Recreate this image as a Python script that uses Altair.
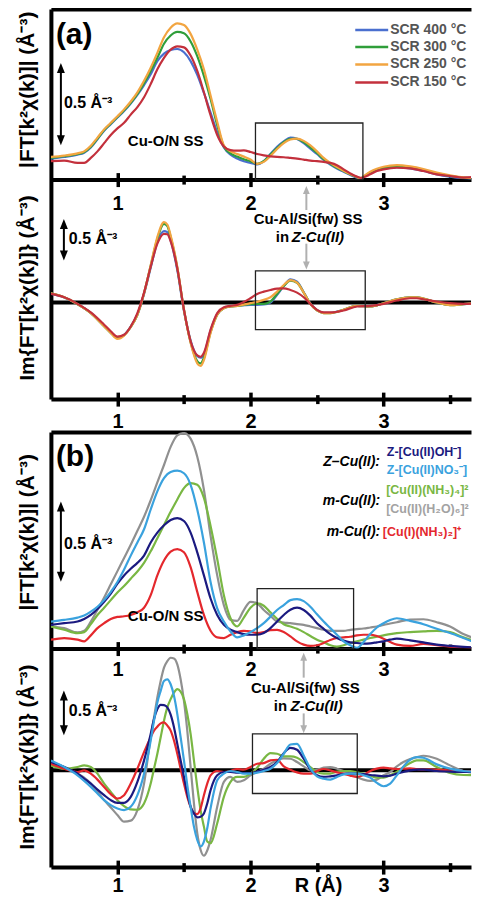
import altair as alt
import pandas as pd

FONT = "Liberation Sans"
X_DOMAIN = [0.5, 3.6575]
PANEL_W = 421

# ---------------- (a) top : |FT| ----------------
r_a_mag = [0.5, 0.6, 0.7, 0.75, 0.8, 0.85, 0.9, 0.95,
           1.0, 1.05, 1.1, 1.15, 1.2, 1.25, 1.3, 1.35, 1.4, 1.45,
           1.5, 1.55, 1.6, 1.65, 1.7, 1.75, 1.8, 1.85, 1.9, 1.95,
           2.0, 2.05, 2.1, 2.15, 2.2, 2.25, 2.3, 2.35, 2.4, 2.45,
           2.5, 2.55, 2.6, 2.65, 2.7, 2.75, 2.8,
           2.83, 2.85, 2.9, 2.95, 3.0, 3.1, 3.2, 3.3, 3.4, 3.5, 3.6, 3.74]
mag_a_400 = [0.128, 0.138, 0.152, 0.164, 0.196, 0.246, 0.298, 0.338,
             0.378, 0.418, 0.464, 0.516, 0.576, 0.642, 0.722, 0.768, 0.79, 0.796,
             0.776, 0.722, 0.638, 0.528, 0.408, 0.288, 0.196, 0.152, 0.128, 0.112,
             0.102, 0.092, 0.112, 0.156, 0.2, 0.232, 0.256, 0.248, 0.222, 0.188,
             0.156, 0.12, 0.092, 0.068, 0.048, 0.028, 0.012,
             0.006, 0.016, 0.04, 0.056, 0.066, 0.076, 0.068, 0.052, 0.032, 0.018, 0.008, 0.0]
mag_a_300 = [0.132, 0.142, 0.156, 0.168, 0.2, 0.25, 0.302, 0.342,
             0.382, 0.422, 0.468, 0.522, 0.588, 0.662, 0.742, 0.828, 0.878, 0.9,
             0.892, 0.842, 0.752, 0.632, 0.492, 0.332, 0.202, 0.16, 0.14, 0.124,
             0.112, 0.096, 0.112, 0.152, 0.192, 0.228, 0.248, 0.248, 0.228, 0.196,
             0.162, 0.124, 0.096, 0.072, 0.052, 0.032, 0.014,
             0.006, 0.018, 0.044, 0.06, 0.072, 0.082, 0.074, 0.058, 0.038, 0.022, 0.012, 0.004]
mag_a_250 = [0.138, 0.146, 0.16, 0.172, 0.206, 0.256, 0.306, 0.346,
             0.386, 0.428, 0.476, 0.532, 0.602, 0.682, 0.772, 0.868, 0.926, 0.952,
             0.942, 0.888, 0.792, 0.672, 0.512, 0.352, 0.208, 0.172, 0.156, 0.14,
             0.122, 0.096, 0.108, 0.144, 0.186, 0.222, 0.244, 0.25, 0.236, 0.208,
             0.172, 0.132, 0.102, 0.076, 0.054, 0.034, 0.016,
             0.008, 0.02, 0.048, 0.066, 0.078, 0.088, 0.08, 0.064, 0.042, 0.026, 0.014, 0.006]
mag_a_150 = [0.112, 0.116, 0.102, 0.102, 0.132, 0.172, 0.222, 0.272,
             0.312, 0.346, 0.396, 0.442, 0.502, 0.582, 0.672, 0.742, 0.792, 0.812,
             0.806, 0.756, 0.662, 0.532, 0.392, 0.272, 0.202, 0.18, 0.176, 0.178,
             0.168, 0.156, 0.148, 0.142, 0.138, 0.136, 0.132, 0.128, 0.122, 0.116,
             0.112, 0.108, 0.102, 0.088, 0.062, 0.038, 0.018,
             0.01, 0.014, 0.032, 0.052, 0.062, 0.072, 0.068, 0.052, 0.032, 0.022, 0.012, 0.02]

# ---------------- (a) bottom : Im ----------------
r_a_im = [0.5, 0.6, 0.7, 0.8, 0.9, 0.95,
          1.0, 1.05, 1.1, 1.15, 1.2, 1.25, 1.3, 1.35,
          1.375, 1.4, 1.45, 1.5, 1.55, 1.6, 1.625, 1.65, 1.7,
          1.75, 1.8, 1.85, 1.9,
          2.0, 2.05, 2.1, 2.15, 2.2, 2.25, 2.3, 2.35, 2.4, 2.45, 2.5, 2.55, 2.6,
          2.7, 2.8, 2.9, 3.0, 3.1, 3.2, 3.25, 3.3, 3.4, 3.5, 3.6, 3.74]
im_a_400 = [0.108, 0.062, -0.02, -0.126, -0.284, -0.364,
            -0.424, -0.39, -0.29, -0.145, 0.105, 0.42, 0.732, 0.864,
            0.852, 0.752, 0.392, -0.1, -0.46, -0.648, -0.668, -0.628, -0.34,
            -0.14, -0.066, -0.048, -0.04,
            -0.028, -0.028, -0.024, 0.0, 0.092, 0.2, 0.28, 0.252, 0.125, -0.012, -0.092, -0.124, -0.124,
            -0.088, -0.04, -0.046, -0.008, 0.038, 0.062, 0.062, 0.046, 0.0, -0.03, -0.02, 0.0]
im_a_300 = [0.112, 0.064, -0.02, -0.128, -0.288, -0.368,
            -0.432, -0.396, -0.296, -0.148, 0.112, 0.445, 0.772, 0.952,
            0.924, 0.792, 0.42, -0.088, -0.48, -0.708, -0.736, -0.668, -0.36,
            -0.148, -0.068, -0.048, -0.04,
            -0.02, -0.016, -0.016, 0.012, 0.104, 0.2, 0.264, 0.24, 0.12, -0.016, -0.096, -0.128, -0.128,
            -0.088, -0.04, -0.048, -0.008, 0.04, 0.064, 0.064, 0.048, 0.0, -0.032, -0.02, 0.0]
im_a_250 = [0.112, 0.064, -0.02, -0.128, -0.288, -0.368,
            -0.44, -0.40, -0.296, -0.148, 0.112, 0.452, 0.792, 0.972,
            0.944, 0.812, 0.432, -0.088, -0.488, -0.736, -0.768, -0.696, -0.368,
            -0.148, -0.068, -0.048, -0.04,
            -0.008, 0.008, 0.032, 0.064, 0.132, 0.212, 0.272, 0.24, 0.12, -0.016, -0.096, -0.128, -0.128,
            -0.088, -0.04, -0.048, -0.008, 0.04, 0.064, 0.064, 0.048, 0.0, -0.032, -0.02, 0.0]
im_a_150 = [0.104, 0.064, -0.016, -0.12, -0.268, -0.348,
            -0.412, -0.39, -0.29, -0.128, 0.12, 0.432, 0.712, 0.832,
            0.826, 0.74, 0.412, -0.088, -0.468, -0.64, -0.656, -0.608, -0.328,
            -0.128, -0.056, -0.04, -0.028,
            0.052, 0.104, 0.132, 0.152, 0.168, 0.172, 0.152, 0.12, 0.064, -0.016, -0.088, -0.12, -0.12,
            -0.096, -0.048, -0.04, -0.016, 0.024, 0.052, 0.052, 0.04, 0.012, -0.008, -0.016, -0.008]

# ---------------- (b) top : |FT| ----------------
r_b_mag = [0.5, 0.6, 0.7, 0.75, 0.8, 0.85, 0.9, 0.95,
           1.0, 1.05, 1.1, 1.15, 1.2, 1.25, 1.3, 1.35, 1.4, 1.45,
           1.5, 1.55, 1.6, 1.65, 1.7, 1.75, 1.8, 1.85, 1.9, 1.95,
           2.0, 2.05, 2.1, 2.15, 2.2, 2.25, 2.3, 2.35, 2.4, 2.45,
           2.5, 2.55, 2.6, 2.65, 2.7, 2.75, 2.8, 2.85, 2.9, 2.95,
           3.0, 3.05, 3.1, 3.2, 3.3, 3.4, 3.5, 3.6, 3.74]
mag_b_h2o = [0.134, 0.124, 0.098, 0.108, 0.164, 0.236, 0.31, 0.39,
             0.47, 0.55, 0.63, 0.715, 0.80, 0.90, 1.008, 1.114, 1.224, 1.294,
             1.308, 1.274, 1.164, 0.964, 0.684, 0.444, 0.264, 0.174, 0.168, 0.234,
             0.284, 0.274, 0.234, 0.2, 0.164, 0.158, 0.154, 0.148, 0.144, 0.134,
             0.124, 0.114, 0.108, 0.108, 0.108, 0.114, 0.118, 0.122, 0.128, 0.134,
             0.144, 0.152, 0.16, 0.176, 0.178, 0.16, 0.134, 0.088, 0.048]
mag_b_no3 = [0.164, 0.174, 0.188, 0.2, 0.224, 0.254, 0.294, 0.344,
             0.404, 0.48, 0.564, 0.644, 0.724, 0.844, 0.954, 1.034, 1.072, 1.08,
             1.064, 0.994, 0.844, 0.644, 0.404, 0.244, 0.164, 0.104, 0.068, 0.08,
             0.1, 0.124, 0.154, 0.194, 0.234, 0.264, 0.294, 0.3, 0.288, 0.254,
             0.208, 0.164, 0.124, 0.084, 0.044, 0.02, 0.004, 0.04, 0.088, 0.128,
             0.154, 0.174, 0.184, 0.168, 0.148, 0.12, 0.094, 0.064, 0.02]
mag_b_nh3 = [0.134, 0.114, 0.094, 0.1, 0.148, 0.204, 0.248, 0.294,
             0.34, 0.38, 0.424, 0.468, 0.52, 0.59, 0.67, 0.75, 0.83, 0.905,
             0.974, 1.004, 0.994, 0.914, 0.744, 0.544, 0.324, 0.184, 0.134, 0.188,
             0.248, 0.274, 0.26, 0.22, 0.18, 0.148, 0.134, 0.12, 0.1, 0.076,
             0.054, 0.038, 0.02, 0.012, 0.02, 0.034, 0.044, 0.054, 0.064, 0.072,
             0.08, 0.088, 0.094, 0.1, 0.104, 0.108, 0.1, 0.068, 0.034]
mag_b_oh = [0.144, 0.154, 0.164, 0.18, 0.204, 0.24, 0.284, 0.334,
            0.394, 0.444, 0.484, 0.52, 0.564, 0.644, 0.704, 0.748, 0.78, 0.792,
            0.774, 0.704, 0.584, 0.444, 0.304, 0.204, 0.144, 0.114, 0.1, 0.088,
            0.084, 0.084, 0.094, 0.124, 0.164, 0.204, 0.236, 0.248, 0.234, 0.2,
            0.154, 0.12, 0.088, 0.064, 0.048, 0.038, 0.034, 0.03, 0.032, 0.038,
            0.044, 0.054, 0.06, 0.05, 0.038, 0.024, 0.016, 0.01, 0.004]
mag_b_cu1 = [0.054, 0.064, 0.054, 0.044, 0.08, 0.124, 0.154, 0.18,
             0.192, 0.196, 0.204, 0.22, 0.248, 0.324, 0.444, 0.534, 0.588, 0.604,
             0.584, 0.494, 0.344, 0.204, 0.108, 0.068, 0.064, 0.084, 0.1, 0.108,
             0.104, 0.094, 0.1, 0.112, 0.114, 0.1, 0.074, 0.044, 0.024, 0.016,
             0.02, 0.034, 0.052, 0.064, 0.068, 0.072, 0.08, 0.084, 0.084, 0.076,
             0.06, 0.04, 0.024, 0.016, 0.028, 0.02, 0.012, 0.008, 0.004]

# ---------------- (b) bottom : Im ----------------
r_b_im = [0.5, 0.6, 0.7, 0.75, 0.8, 0.85, 0.9, 0.95,
          1.0, 1.05, 1.1, 1.15, 1.2, 1.25,
          1.275, 1.3, 1.325, 1.35, 1.375, 1.4, 1.425, 1.45, 1.475, 1.5, 1.525, 1.55,
          1.575, 1.6, 1.625, 1.65, 1.675, 1.7,
          1.75, 1.8, 1.85, 1.9, 1.95,
          2.0, 2.05, 2.1, 2.15, 2.2, 2.25, 2.3, 2.35, 2.4, 2.45,
          2.5, 2.55, 2.6, 2.65, 2.7, 2.75, 2.8, 2.85, 2.9, 2.95,
          3.0, 3.05, 3.1, 3.15, 3.2, 3.25, 3.3,
          3.4, 3.5, 3.6, 3.74]
im_b_h2o = [0.1, 0.04, -0.04, -0.088, -0.16, -0.26, -0.36, -0.448,
            -0.54, -0.62, -0.608, -0.48, -0.16, 0.4,
            0.64, 0.88, 1.08, 1.24, 1.32, 1.36, 1.352, 1.28, 1.1, 0.84, 0.48, 0.04,
            -0.4, -0.76, -0.96, -1.032, -0.968, -0.84,
            -0.44, -0.14, -0.08, -0.14, -0.12,
            -0.06, -0.02, 0.02, 0.08, 0.12, 0.144, 0.14, 0.1, 0.048, 0.0,
            0.008, 0.032, 0.04, 0.02, -0.008, -0.04, -0.08, -0.112, -0.128, -0.112,
            -0.06, -0.02, 0.048, 0.1, 0.136, 0.16, 0.176,
            0.14, 0.06, -0.008, -0.04]
im_b_no3 = [0.12, 0.04, -0.06, -0.128, -0.2, -0.28, -0.36, -0.42,
            -0.46, -0.48, -0.44, -0.3, -0.04, 0.36,
            0.6, 0.82, 0.96, 1.08, 1.1, 1.04, 0.9, 0.68, 0.4, 0.12, -0.18, -0.44,
            -0.68, -0.84, -0.92, -0.86, -0.7, -0.46,
            -0.12, -0.04, -0.008, -0.02, -0.04,
            -0.04, -0.028, -0.008, 0.02, 0.088, 0.2, 0.312, 0.32, 0.18, 0.02,
            -0.072, -0.1, -0.112, -0.08, -0.048, -0.04, -0.04, -0.06, -0.088, -0.152,
            -0.192, -0.16, -0.06, 0.048, 0.128, 0.16, 0.152,
            0.072, 0.02, -0.008, -0.02]
im_b_nh3 = [0.06, 0.02, 0.04, 0.06, 0.04, -0.04, -0.16, -0.26,
            -0.36, -0.432, -0.472, -0.476, -0.4, -0.16,
            0.02, 0.2, 0.4, 0.6, 0.76, 0.86, 0.94, 0.98, 0.952, 0.86, 0.68, 0.44,
            0.12, -0.2, -0.48, -0.68, -0.86, -0.88,
            -0.64, -0.32, -0.14, -0.08, -0.08,
            -0.04, 0.032, 0.14, 0.208, 0.2, 0.168, 0.168, 0.152, 0.1, 0.04,
            -0.02, -0.04, -0.04, -0.016, -0.008, -0.008, -0.024, -0.04, -0.064, -0.088,
            -0.088, -0.06, -0.02, 0.04, 0.088, 0.12, 0.12,
            0.04, -0.032, -0.056, -0.06]
im_b_oh = [0.1, 0.04, -0.04, -0.1, -0.16, -0.232, -0.3, -0.36,
           -0.392, -0.392, -0.32, -0.14, 0.12, 0.44,
           0.62, 0.74, 0.792, 0.788, 0.76, 0.672, 0.52, 0.32, 0.12, -0.08, -0.28, -0.44,
           -0.52, -0.568, -0.56, -0.52, -0.4, -0.24,
           -0.06, -0.02, -0.02, -0.028, -0.032,
           -0.032, -0.016, 0.008, 0.04, 0.1, 0.208, 0.272, 0.248, 0.14, 0.008,
           -0.06, -0.08, -0.072, -0.06, -0.044, -0.04, -0.04, -0.044, -0.056, -0.064,
           -0.072, -0.064, -0.04, -0.02, 0.0, 0.008, 0.008,
           -0.008, -0.016, -0.02, -0.02]
im_b_cu1 = [0.08, 0.02, -0.02, 0.0, -0.04, -0.112, -0.2, -0.288,
            -0.34, -0.3, -0.16, 0.02, 0.22, 0.4,
            0.48, 0.528, 0.568, 0.58, 0.54, 0.48, 0.36, 0.2, 0.02, -0.16, -0.32, -0.44,
            -0.52, -0.528, -0.46, -0.3, -0.16, -0.06,
            -0.008, -0.02, -0.008, 0.016, 0.008,
            0.04, 0.08, 0.088, 0.12, 0.128, 0.048, 0.008, -0.024, -0.04, -0.04,
            -0.008, 0.016, 0.0, -0.024, -0.04, -0.064, -0.08, -0.056, -0.008, 0.02,
            0.032, 0.024, 0.016, 0.02, 0.024, 0.016, 0.008,
            0.008, 0.0, -0.008, -0.008]

# series names / colours
a_names = ["SCR 400 °C", "SCR 300 °C", "SCR 250 °C", "SCR 150 °C"]
a_colors = ["#4a6fcf", "#2f9e3a", "#f2a541", "#c3303c"]
b_names = ["[Cu(II)(H₂O)₆]²⁺", "[Cu(II)(NH₃)₄]²⁺", "[Cu(I)(NH₃)₂]⁺",
           "Z-[Cu(II)OH⁻]", "Z-[Cu(II)NO₃⁻]"]
b_colors = ["#909090", "#79b743", "#e4282d", "#1b1a80", "#3aa2de"]


def long_df(r, series):
    rows = []
    for name, vals in series:
        if len(vals) != len(r):
            raise ValueError(f"length mismatch for {name}: {len(vals)} vs {len(r)}")
        for x, y in zip(r, vals):
            rows.append({"R": x, "v": y, "series": name})
    return pd.DataFrame(rows)


df_a_mag = long_df(r_a_mag, list(zip(a_names, [mag_a_400, mag_a_300, mag_a_250, mag_a_150])))
df_a_im = long_df(r_a_im, list(zip(a_names, [im_a_400, im_a_300, im_a_250, im_a_150])))
df_b_mag = long_df(r_b_mag, list(zip(b_names, [mag_b_h2o, mag_b_nh3, mag_b_cu1, mag_b_oh, mag_b_no3])))
df_b_im = long_df(r_b_im, list(zip(b_names, [im_b_h2o, im_b_nh3, im_b_cu1, im_b_oh, im_b_no3])))

UP = "M0,-1L-0.8,1L0.8,1Z"
DOWN = "M0,1L-0.8,-1L0.8,-1Z"
GUP = "M0,-1L-0.85,1L0.85,1Z"
GDOWN = "M0,1L-0.85,-1L0.85,-1Z"
PX_PER_R = PANEL_W / (X_DOMAIN[1] - X_DOMAIN[0])


def X(axis=None):
    return alt.X("R:Q", scale=alt.Scale(domain=X_DOMAIN, nice=False, zero=False), axis=axis)


def axis_main(pad, xtitle=None):
    kw = dict(orient="bottom", values=[1, 2, 3], format="d", domain=True, domainWidth=4,
              domainColor="black", ticks=False, tickSize=0, labels=True, labelFont=FONT,
              labelFontSize=20, labelFontWeight="bold", labelColor="black", labelPadding=pad,
              labelFlush=False, grid=False)
    if xtitle:
        kw.update(title=xtitle, titleFont=FONT, titleFontSize=20, titleFontWeight="bold",
                  titleColor="black", titleX=267.7, titleY=18, titleBaseline="middle",
                  titleAlign="center")
    else:
        kw.update(title=None)
    return alt.Axis(**kw)


AX_MAJOR = alt.Axis(orient="bottom", values=[1, 2, 3], offset=-7, ticks=True, tickSize=14,
                    tickWidth=3.5, tickColor="black", domain=False, labels=False, grid=False,
                    title=None)
AX_MINOR = alt.Axis(orient="bottom", values=[1.5, 2.5, 3.5], offset=-4.5, ticks=True, tickSize=9,
                    tickWidth=3.5, tickColor="black", domain=False, labels=False, grid=False,
                    title=None)
AX_TOP = alt.Axis(orient="top", domain=True, domainWidth=4, domainColor="black", ticks=False,
                  labels=False, grid=False, title=None)


def y_axis(title, ty):
    return alt.Axis(orient="left", domain=True, domainWidth=4, domainColor="black", ticks=False,
                    labels=False, grid=False, title=title, titleFont=FONT, titleFontSize=21,
                    titleFontWeight="bold", titleColor="black", titlePadding=13, titleY=ty)


class Panel:
    """Holds the shared y scale and y axis of one panel so every layer uses identical specs."""

    def __init__(self, ydom, ytitle, title_y):
        self.ysc = alt.Scale(domain=ydom, nice=False, zero=False)
        self.yax = y_axis(ytitle, title_y)

    def Y(self):
        return alt.Y("v:Q", scale=self.ysc, axis=self.yax)

    def lines(self, df, names, colors, xax):
        return alt.Chart(df).mark_line(clip=True, strokeWidth=2.2, interpolate="monotone").encode(
            x=X(xax), y=self.Y(),
            color=alt.Color("series:N", scale=alt.Scale(domain=names, range=colors), legend=None))

    def box(self, r1, r2, v1, v2, xax=None):
        df = pd.DataFrame({"R": [r1], "R2": [r2], "v": [v1], "v2": [v2]})
        return alt.Chart(df).mark_rect(fillOpacity=0, stroke="#222222", strokeWidth=1.3).encode(
            x=X(xax), x2="R2:Q", y=self.Y(), y2="v2:Q")

    def vrule(self, r, v1, v2, color, width, xax=None):
        df = pd.DataFrame({"R": [r], "v": [v1], "v2": [v2]})
        return alt.Chart(df).mark_rule(color=color, strokeWidth=width).encode(
            x=X(xax), y=self.Y(), y2="v2:Q")

    def head(self, r, v, shape, size, color):
        df = pd.DataFrame({"R": [r], "v": [v]})
        return alt.Chart(df).mark_point(shape=shape, size=size, filled=True, opacity=1,
                                        color=color, strokeWidth=0).encode(x=X(), y=self.Y())

    def text(self, rows, size, color="black", align="left", weight="bold", style="normal",
             xax=None, cut=False):
        df = pd.DataFrame(rows, columns=["R", "v", "t"])
        kw = dict(align=align, baseline="middle", font=FONT, fontSize=size, fontWeight=weight,
                  fontStyle=style, color=color)
        if cut:
            # text running past the right edge is cut there, as in the cropped original
            kw.update(limit=PANEL_W - (rows[0][0] - X_DOMAIN[0]) * PX_PER_R, ellipsis="\u200b")
        return alt.Chart(df).mark_text(**kw).encode(x=X(xax), y=self.Y(), text="t:N")

    def zero_line(self):
        return alt.Chart(pd.DataFrame({"v": [0.0]})).mark_rule(color="black", strokeWidth=4).encode(
            y=self.Y())

    def legend_rules(self, df, names, colors):
        return alt.Chart(df).mark_rule(strokeWidth=2.5).encode(
            x=X(), x2="R2:Q", y=self.Y(),
            color=alt.Color("series:N", scale=alt.Scale(domain=names, range=colors), legend=None))


SCALE_TXT = "0.5 Å⁻³"

# ---- panel (a) top ----
p = Panel([0, 1.04], "|FT[k²χ(k)]| (Å⁻³)", 80.5)
leg_a_v = [0.912, 0.808, 0.702, 0.592]
leg_a = pd.DataFrame({"R": [2.7875] * 4, "R2": [3.035] * 4, "v": leg_a_v, "series": a_names})
panel_a1 = alt.layer(
    p.lines(df_a_mag, a_names, a_colors, axis_main(14)),
    p.box(2.0375, 2.845, 0.0, 0.345, AX_MAJOR),
    p.text([[0.5975, 0.464, SCALE_TXT]], 16, xax=AX_MINOR),
    p.vrule(0.575, 0.68, 0.24, "black", 2, AX_TOP),
    p.head(0.575, 0.68, UP, 100, "black"),
    p.head(0.575, 0.24, DOWN, 100, "black"),
    p.text([[0.5375, 0.884, "(a)"]], 30),
    p.text([[1.3625, 0.235, "Cu-O/N SS"]], 15, align="center"),
    p.legend_rules(leg_a, a_names, a_colors),
    p.text([[3.05, v, n] for v, n in zip(leg_a_v, a_names)], 14, color="#555555"),
).resolve_axis(x="independent").properties(width=PANEL_W, height=171)

# ---- panel (a) bottom ----
p = Panel([-1.169, 1.488], "Im{FT[k²χ(k)]} (Å⁻³)", 108.2)
panel_a2 = alt.layer(
    p.zero_line(),
    p.lines(df_a_im, a_names, a_colors, axis_main(12)),
    p.box(2.0375, 2.8625, -0.329, 0.384, AX_MAJOR),
    p.text([[0.635, 0.772, SCALE_TXT]], 16, xax=AX_MINOR),
    p.vrule(0.5975, 0.95, 0.57, "black", 2),
    p.head(0.5975, 0.95, UP, 100, "black"),
    p.head(0.5975, 0.57, DOWN, 100, "black"),
    p.vrule(2.42, 1.363, 1.12, "#b0b0b0", 2),
    p.head(2.42, 1.363, GUP, 64, "#b0b0b0"),
    p.vrule(2.42, 0.712, 0.448, "#b0b0b0", 2),
    p.head(2.42, 0.448, GDOWN, 64, "#b0b0b0"),
    p.text([[2.433, 1.012, "Cu-Al/Si(fw) SS"]], 15, align="center"),
    p.text([[2.29, 0.79, "in"]], 15, align="right"),
    p.text([[2.31, 0.79, "Z-Cu(II)"]], 15, style="italic"),
).resolve_axis(x="independent").properties(width=PANEL_W, height=220)

spacer = alt.Chart(pd.DataFrame({"R": [1.0], "v": [0.0]})).mark_point(opacity=0).encode(
    x=alt.X("R:Q", axis=None), y=alt.Y("v:Q", axis=None)).properties(width=PANEL_W, height=33)

# ---- panel (b) top ----
p = Panel([0, 1.314], "|FT[k²χ(k)]| (Å⁻³)", 100)
panel_b1 = alt.layer(
    p.lines(df_b_mag, b_names, b_colors, axis_main(11)),
    p.box(2.05, 2.775, 0.0, 0.364, AX_MAJOR),
    p.text([[0.5975, 0.634, SCALE_TXT]], 16, xax=AX_MINOR),
    p.vrule(0.575, 0.862, 0.436, "black", 2, AX_TOP),
    p.head(0.575, 0.862, UP, 100, "black"),
    p.head(0.575, 0.436, DOWN, 100, "black"),
    p.text([[0.5375, 1.162, "(b)"]], 30),
    p.text([[1.3625, 0.2, "Cu-O/N SS"]], 15, align="center"),
    p.text([[2.973, 1.132, "Z–Cu(II):"], [2.975, 0.898, "m-Cu(II):"], [2.975, 0.706, "m-Cu(I):"]],
           14, align="right", style="italic"),
    p.text([[3.025, 1.193, "Z-[Cu(II)OH⁻]"]], 12.5, color="#1b1a80", cut=True),
    p.text([[3.025, 1.081, "Z-[Cu(II)NO₃⁻]"]], 12.5, color="#3aa2de", cut=True),
    p.text([[3.02, 0.964, "[Cu(II)(NH₃)₄]²⁺"]], 12.5, color="#79b743", cut=True),
    p.text([[3.02, 0.844, "[Cu(II)(H₂O)₆]²⁺"]], 12.5, color="#a3a3a3", cut=True),
    p.text([[2.995, 0.706, "[Cu(I)(NH₃)₂]⁺"]], 12.5, color="#e4282d", cut=True),
).resolve_axis(x="independent").properties(width=PANEL_W, height=217)

# ---- panel (b) bottom ----
p = Panel([-1.169, 1.471], "Im{FT[k²χ(k)]} (Å⁻³)", 108.3)
panel_b2 = alt.layer(
    p.zero_line(),
    p.lines(df_b_im, b_names, b_colors, axis_main(8, "R (Å)")),
    p.box(2.015, 2.8025, -0.28, 0.44, AX_MAJOR),
    p.text([[0.635, 0.712, SCALE_TXT]], 16, xax=AX_MINOR),
    p.vrule(0.5975, 0.904, 0.484, "black", 2),
    p.head(0.5975, 0.904, UP, 100, "black"),
    p.head(0.5975, 0.484, DOWN, 100, "black"),
    p.vrule(2.40, 1.372, 1.12, "#b0b0b0", 2),
    p.head(2.40, 1.372, GUP, 64, "#b0b0b0"),
    p.vrule(2.40, 0.688, 0.496, "#b0b0b0", 2),
    p.head(2.40, 0.496, GDOWN, 64, "#b0b0b0"),
    p.text([[2.4125, 0.994, "Cu-Al/Si(fw) SS"]], 15, align="center"),
    p.text([[2.275, 0.78, "in"]], 15, align="right"),
    p.text([[2.30, 0.78, "Z-Cu(II)"]], 15, style="italic"),
).resolve_axis(x="independent").properties(width=PANEL_W, height=219)

chart = alt.vconcat(panel_a1, panel_a2, spacer, panel_b1, panel_b2, spacing=0, bounds="flush")
chart = chart.resolve_scale(color="independent").properties(
    padding={"left": 8, "top": 0, "right": 0, "bottom": 0}
).configure_view(strokeWidth=0)

chart.save("out.html", embed_options={"renderer": "svg", "actions": False})
